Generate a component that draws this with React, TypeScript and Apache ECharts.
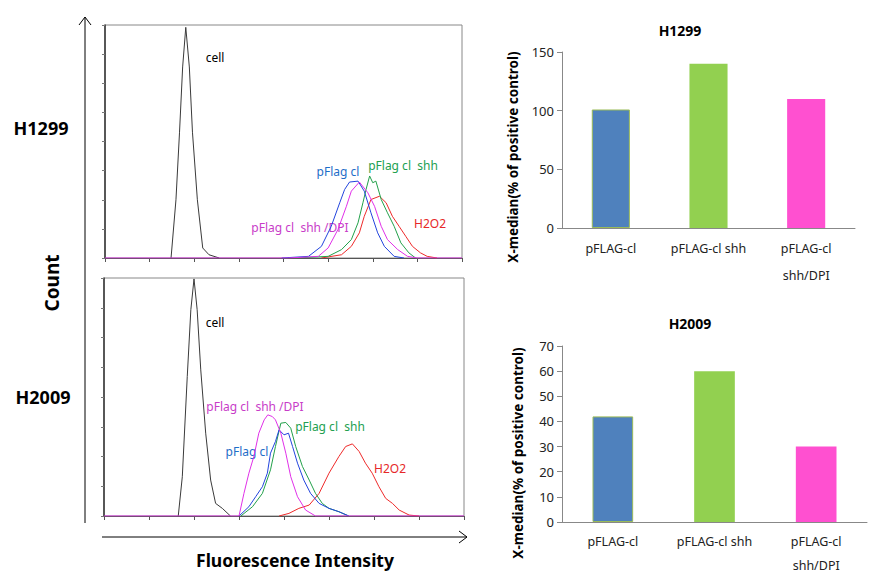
import React, { useEffect, useRef } from "react";
import * as echarts from "echarts";

// ---------- Histogram data (x: log decades 0..8, y: % of panel height) ----------
const topCell: number[][] = [[1.48, 0], [1.59, 25], [1.67, 54], [1.74, 82], [1.81, 99], [1.89, 82], [1.96, 54], [2.07, 25], [2.19, 4.3], [2.33, 1.4], [2.56, 0]];
const topBlue: number[][] = [[3.96, 0], [4.56, 0.7], [4.85, 5], [5.07, 13.6], [5.26, 23.7], [5.37, 29.4], [5.48, 32.6], [5.67, 33], [5.81, 28.7], [5.96, 19.4], [6.11, 10.8], [6.26, 5], [6.48, 0.7], [6.7, 0]];
const topMagenta: number[][] = [[0, 0], [4.11, 0], [4.78, 0.7], [5.0, 4.3], [5.22, 12.2], [5.41, 22.2], [5.52, 28.7], [5.7, 32.6], [5.89, 28], [6.04, 22.2], [6.19, 13.6], [6.33, 7.9], [6.56, 3.6], [6.78, 0.7], [7.0, 0], [8, 0]];
const topGreen: number[][] = [[4.26, 0], [5.0, 0.7], [5.3, 3.6], [5.52, 7.9], [5.67, 15.1], [5.78, 23.7], [5.85, 29.4], [5.93, 35.2], [6.0, 32.3], [6.07, 33], [6.19, 25.1], [6.33, 19.4], [6.48, 13.6], [6.63, 6.5], [6.81, 2.2], [6.96, 0]];
const topRed: number[][] = [[4.85, 0], [5.3, 1.4], [5.52, 5], [5.7, 10.8], [5.81, 17.9], [5.96, 25.1], [6.15, 26.5], [6.3, 23.7], [6.44, 17.9], [6.59, 13.6], [6.74, 9.3], [6.89, 5], [7.07, 2.2], [7.22, 0.7], [7.44, 0]];

const botCell: number[][] = [[1.65, 0], [1.74, 16.5], [1.85, 58.6], [1.93, 86.7], [2.0, 99.6], [2.07, 86.7], [2.15, 61.4], [2.26, 34.8], [2.37, 15.1], [2.48, 5.3], [2.63, 3.2], [2.81, 0]];
const botMagenta: number[][] = [[0, 0], [3.0, 0], [3.11, 9.5], [3.22, 18], [3.33, 25], [3.44, 34.8], [3.56, 40.4], [3.64, 42.5], [3.74, 41.8], [3.81, 40.4], [3.93, 34.8], [4.04, 26.4], [4.15, 16.5], [4.3, 8.1], [4.48, 2.5], [4.7, 0], [8, 0]];
const botBlue: number[][] = [[3.0, 0], [3.22, 3.9], [3.37, 8.1], [3.52, 12.3], [3.63, 18], [3.7, 26.4], [3.81, 31.3], [3.89, 36.2], [4.0, 34.1], [4.1, 34.8], [4.19, 29.2], [4.3, 22.2], [4.44, 15.1], [4.59, 9.5], [4.78, 5.3], [5.0, 3.2], [5.22, 1.8], [5.44, 0]];
const botGreen: number[][] = [[3.04, 0], [3.3, 3.9], [3.52, 9.5], [3.7, 19.4], [3.81, 29.2], [3.93, 39], [4.04, 39.3], [4.15, 36.9], [4.26, 29.2], [4.41, 20.8], [4.56, 15.1], [4.7, 9.5], [4.85, 5.3], [5.0, 3.2], [5.22, 1.8], [5.44, 0]];
const botRed: number[][] = [[3.89, 0], [4.11, 1.1], [4.33, 3.2], [4.56, 4.6], [4.78, 9.5], [5.0, 18], [5.22, 25], [5.37, 29.2], [5.52, 30.3], [5.67, 27.1], [5.81, 22.2], [5.96, 18], [6.11, 12.3], [6.26, 7.4], [6.41, 5.3], [6.56, 2.5], [6.78, 0.4], [7.0, 0]];

// ---------- Bar chart data ----------
const barCategories = ["pFLAG-cl", "pFLAG-cl shh", "pFLAG-cl\nshh/DPI"];
const h1299Values = [101, 140, 110];
const h2009Values = [42, 60, 30];
const barColors = ["#4F81BD", "#92D050", "#FF50D0"];

const FONT = "'Noto Sans', 'Open Sans', sans-serif";

const COL_CELL = "#3a3a3a";
const COL_BLUE = "#2244dd";
const COL_MAG = "#e030e8";
const COL_GREEN = "#22a04a";
const COL_RED = "#ee2a2a";

function histLine(data: number[][], color: string, idx: number) {
  return {
    type: "line",
    xAxisIndex: idx,
    yAxisIndex: idx,
    data,
    showSymbol: false,
    symbol: "none",
    lineStyle: { color, width: 1 },
    silent: true,
  };
}

function label(text: string, x: number, y: number, fill: string) {
  return {
    type: "text",
    x,
    y,
    style: { text, fill, font: `12px ${FONT}`, align: "center", verticalAlign: "middle" },
  };
}

function boldText(text: string, x: number, y: number, size: number, rot = 0) {
  return {
    type: "text",
    x,
    y,
    rotation: rot,
    style: { text, fill: "#000", font: `bold ${size}px ${FONT}`, align: "center", verticalAlign: "middle" },
  };
}

export default function App() {
  const ref = useRef<HTMLDivElement>(null);

  useEffect(() => {
    document.body.style.margin = "0";
    const chart = echarts.init(ref.current!, null, { renderer: "svg" });

    const histX = (gi: number) => ({
      type: "value",
      gridIndex: gi,
      min: 0,
      max: 8,
      interval: 1,
      axisLine: { show: true, lineStyle: { color: "#555", width: 1 } },
      axisTick: { show: true, length: 4, lineStyle: { color: "#555" } },
      axisLabel: { show: false },
      splitLine: { show: false },
    });
    const histY = (gi: number) => ({
      type: "value",
      gridIndex: gi,
      min: 0,
      max: 100,
      interval: 12.5,
      axisLine: { show: true, lineStyle: { color: "#333", width: 1.5 } },
      axisTick: { show: true, length: 3, lineStyle: { color: "#777" } },
      axisLabel: { show: false },
      splitLine: { show: false },
    });
    const barX = (gi: number, lh: number) => ({
      type: "category",
      gridIndex: gi,
      data: barCategories,
      axisLine: { show: true, lineStyle: { color: "#888" } },
      axisTick: { show: false },
      axisLabel: { color: "#222", fontSize: 12.5, fontFamily: FONT, margin: 7, lineHeight: lh, interval: 0 },
    });
    const barY = (gi: number, max: number, interval: number) => ({
      type: "value",
      gridIndex: gi,
      min: 0,
      max,
      interval,
      axisLine: { show: true, lineStyle: { color: "#888" } },
      axisTick: { show: true, length: 5, lineStyle: { color: "#888" } },
      axisLabel: { color: "#222", fontSize: 13, fontFamily: FONT, margin: 8 },
      splitLine: { show: false },
    });
    const barSeries = (idx: number, values: number[], width: string) => ({
      type: "bar",
      xAxisIndex: idx,
      yAxisIndex: idx,
      barWidth: width,
      data: values.map((v, i) => ({
        value: v,
        itemStyle: { color: barColors[i], borderColor: i === 0 ? "#9BBB59" : barColors[i], borderWidth: i === 0 ? 1 : 0 },
      })),
      silent: true,
    });

    chart.setOption({
      animation: false,
      title: [
        { text: "H1299", left: 675, top: 25, textAlign: "center", textVerticalAlign: "middle", textStyle: { fontSize: 14, fontWeight: "bold", fontFamily: FONT, color: "#000" } },
        { text: "H2009", left: 685, top: 318, textAlign: "center", textVerticalAlign: "middle", textStyle: { fontSize: 14, fontWeight: "bold", fontFamily: FONT, color: "#000" } },
      ],
      grid: [
        { left: 105, top: 25, width: 357, height: 233, show: true, borderColor: "#888", borderWidth: 1, backgroundColor: "transparent" },
        { left: 104, top: 278, width: 360, height: 238, show: true, borderColor: "#888", borderWidth: 1, backgroundColor: "transparent" },
        { left: 562, top: 52, width: 293, height: 176 },
        { left: 562, top: 346, width: 305, height: 176 },
      ],
      xAxis: [histX(0), histX(1), barX(2, 27), barX(3, 24)],
      yAxis: [histY(0), histY(1), barY(2, 150, 50), barY(3, 70, 10)],
      series: [
        histLine(topCell, COL_CELL, 0),
        histLine(topRed, COL_RED, 0),
        histLine(topGreen, COL_GREEN, 0),
        histLine(topBlue, COL_BLUE, 0),
        histLine(topMagenta, COL_MAG, 0),
        histLine(botCell, COL_CELL, 1),
        histLine(botRed, COL_RED, 1),
        histLine(botGreen, COL_GREEN, 1),
        histLine(botBlue, COL_BLUE, 1),
        histLine(botMagenta, COL_MAG, 1),
        barSeries(2, h1299Values, "39%"),
        barSeries(3, h2009Values, "40%"),
      ],
      graphic: [
        // axes arrows
        { type: "line", shape: { x1: 85, y1: 523, x2: 85, y2: 17 }, style: { stroke: "#000", lineWidth: 1 } },
        { type: "polyline", shape: { points: [[79, 25], [85, 17], [91, 25]] }, style: { stroke: "#000", lineWidth: 1, fill: null } },
        { type: "line", shape: { x1: 102, y1: 537, x2: 467, y2: 537 }, style: { stroke: "#000", lineWidth: 1 } },
        { type: "polyline", shape: { points: [[459, 531], [467, 537], [459, 543]] }, style: { stroke: "#000", lineWidth: 1, fill: null } },
        // left labels
        boldText("H1299", 41, 128, 18),
        boldText("H2009", 43, 397, 18),
        boldText("Count", 52, 283, 19, Math.PI / 2),
        boldText("Fluorescence Intensity", 295, 560, 17.5),
        // bar y-axis names
        boldText("X-median(% of positive control)", 513, 157, 13.5, Math.PI / 2),
        boldText("X-median(% of positive control)", 518, 453, 13.5, Math.PI / 2),
        // histogram annotations
        label("cell", 215, 57, "#000"),
        label("pFlag cl", 338, 171, "#1e6ec8"),
        label("pFlag cl  shh", 403, 165, "#22a050"),
        label("pFlag cl  shh /DPI", 300, 227, "#c83cc8"),
        label("H2O2", 430, 223, "#e62828"),
        label("cell", 215, 322, "#000"),
        label("pFlag cl  shh /DPI", 255, 406, "#c83cc8"),
        label("pFlag cl  shh", 330, 426, "#22a050"),
        label("pFlag cl", 247, 451, "#1e6ec8"),
        label("H2O2", 390, 468, "#e62828"),
      ],
    });

    return () => chart.dispose();
  }, []);

  return <div ref={ref} style={{ width: 881, height: 583, position: "absolute", left: 0, top: 0 }} />;
}
